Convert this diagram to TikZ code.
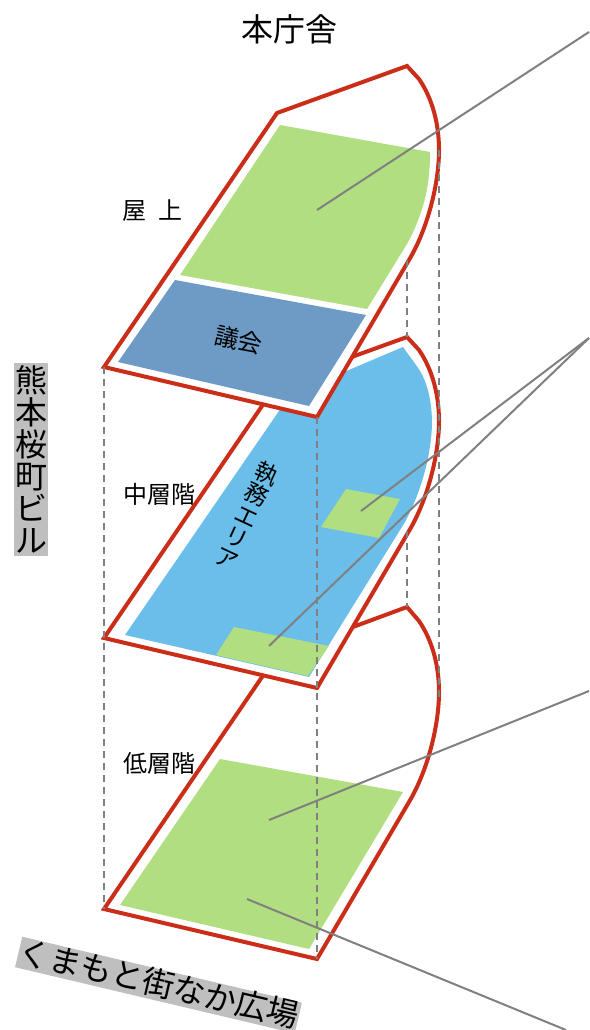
\documentclass[tikz,border=0pt]{standalone}
\usepackage{fontspec}
\setmainfont{Noto Sans CJK JP}
\definecolor{redl}{RGB}{203,46,24}
\definecolor{greenf}{RGB}{178,222,130}
\definecolor{bluef}{RGB}{106,190,233}
\definecolor{navyf}{RGB}{110,155,198}
\definecolor{graylab}{RGB}{191,191,191}
\definecolor{leader}{RGB}{128,128,128}
\tikzset{
 floorline/.style={draw=redl,line width=3pt,line join=miter,fill=white},
 guide/.style={draw=leader,line width=1.5pt,dash pattern=on 5.25pt off 3.75pt},
 leaderline/.style={draw=leader,line width=1.5pt},
 lab/.style={font=\fontsize{18pt}{20pt}\selectfont,text=black,inner sep=0pt},
 big/.style={font=\fontsize{24pt}{24pt}\selectfont,text=black,inner sep=0pt},
}
\begin{document}
\begin{tikzpicture}[x=0.75pt,y=-0.75pt]
\useasboundingbox (0,0) rectangle (589,1030);
\fill[white] (0,0) rectangle (589,1030);
% low floor
\path[floorline] (104,909) -- (277,655) -- (407,607) -- (419,621) .. controls (432,640) and (439,665) .. (439,692) .. controls (439,725) and (428,770) .. (409,802) -- (317,959) -- cycle;
\fill[greenf] (220,759) -- (403,792) -- (309,949) -- (120,905) -- cycle;
% middle floor
\path[floorline] (104,638) -- (277,384) -- (407,337) -- (419,350) .. controls (432,369) and (439,394) .. (439,421) .. controls (439,454) and (428,499) .. (409,531) -- (317,688) -- cycle;
\fill[bluef] (125,635) -- (290,395) -- (403,347) -- (416,365) .. controls (426,378) and (432,398) .. (432,424) .. controls (431,455) and (422,490) .. (405,522) -- (309,677) -- cycle;
\fill[greenf] (346,489) -- (400,499) -- (379,538) -- (321,527) -- cycle;
\fill[greenf] (234,627) -- (329,646) -- (308,676) -- (216,655) -- cycle;
% top floor
\path[floorline] (104,367) -- (277,113) -- (407,66) -- (419,79) .. controls (432,98) and (439,123) .. (439,150) .. controls (439,183) and (428,228) .. (409,260) -- (317,417) -- cycle;
\fill[greenf] (280,125) -- (430,152) .. controls (430,180) and (426,195) .. (423,206) .. controls (417,225) and (412,235) .. (407,244) -- (367,309) -- (180,275) -- cycle;
\fill[navyf] (175,280) -- (366,315) -- (309,406) -- (118,362) -- cycle;
% guides
\coordinate (gA1) at (104,367); \coordinate (gA2) at (104,909);
\coordinate (gB1) at (317,417); \coordinate (gB2) at (317,959);
\coordinate (gC1) at (407,260); \coordinate (gC2) at (407,337);
\coordinate (gD1) at (407,531); \coordinate (gD2) at (407,607);
\coordinate (gE1) at (439,150); \coordinate (gE2) at (439,700);
\draw[guide] (gA1) -- (gA2);
\draw[guide] (gB1) -- (gB2);
\draw[guide] (gC1) -- (gC2);
\draw[guide] (gD1) -- (gD2);
\draw[guide] (gE1) -- (gE2);
% leaders
\coordinate (l1a) at (317,210); \coordinate (l1b) at (589,32);
\coordinate (l2a) at (361,511); \coordinate (l2b) at (589,338);
\coordinate (l3a) at (269,646); \coordinate (l3b) at (589,338);
\coordinate (l4a) at (269,820); \coordinate (l4b) at (589,691);
\coordinate (l5a) at (247,899); \coordinate (l5b) at (566,1030);
\draw[leaderline] (l1a) -- (l1b);
\draw[leaderline] (l2a) -- (l2b);
\draw[leaderline] (l3a) -- (l3b);
\draw[leaderline] (l4a) -- (l4b);
\draw[leaderline] (l5a) -- (l5b);
% texts
\node[big] (title) at (289,29) {本庁舎};
\node[lab] (roof) at (152.5,211) {屋\hspace{9.5pt}上};
\node[lab] (mid) at (159,494) {中層階};
\node[lab] (low) at (159,763) {低層階};
\node[lab,rotate=-13] (gikai) at (239,340) {議会};
\node[lab,rotate=-25,align=center,font=\fontsize{17.5pt}{17.5pt}\selectfont] (work) at (247,515.5) {執\\務\\エ\\リ\\ア};
\node[fill=graylab,minimum width=25.5pt,minimum height=144.75pt,inner sep=0pt] (kumaback) at (31,459.5) {};
\node[big,align=center] (kuma) at (32,459.5) {熊\\本\\桜\\町\\ビ\\ル};
\node[big,rotate=-13.3,fill=graylab,inner xsep=0pt,inner ysep=0.5pt,text height=19pt,text depth=3.5pt] (plaza) at (158.5,985) {くまもと街なか広場};
\end{tikzpicture}
\end{document}
